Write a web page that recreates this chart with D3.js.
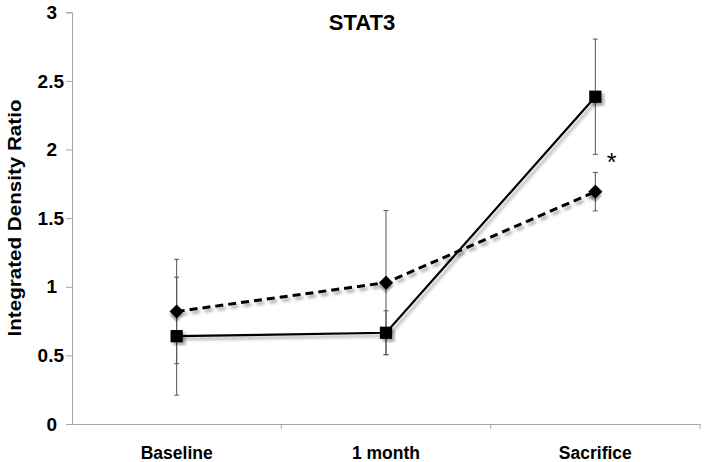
<!DOCTYPE html>
<html>
<head>
<meta charset="utf-8">
<script src="https://cdn.jsdelivr.net/npm/d3@7"></script>
<style>
  html, body { margin: 0; padding: 0; background: #fff; }
  svg { display: block; font-family: "Liberation Sans", Arial, sans-serif; }
</style>
</head>
<body>
<svg id="chart" width="704" height="462"></svg>
<script>
const categories = ["Baseline", "1 month", "Sacrifice"];
const solidValues = [0.64, 0.665, 2.385];
const solidErrors = [0.43, 0.16, 0.42];
const dashedValues = [0.82, 1.03, 1.693];
const dashedErrors = [0.38, 0.525, 0.14];
const yTicks = [0, 0.5, 1, 1.5, 2, 2.5, 3];
const titleText = "STAT3";
const yLabel = "Integrated Density Ratio";
const sigMark = "*";

(function () {
const svg = d3.select("#chart");
const plotLeft = 72, plotRight = 700, plotTop = 12.3, plotBottom = 424;

const x = d3.scaleBand().domain(categories).range([plotLeft, plotRight]).padding(0);
const y = d3.scaleLinear().domain([0, 3]).range([plotBottom, plotTop]);
const cx = c => x(c) + x.bandwidth() / 2;

const defs = svg.append("defs");
const f = defs.append("filter").attr("id", "shadow")
  .attr("x", "-30%").attr("y", "-30%").attr("width", "160%").attr("height", "160%");
f.append("feDropShadow").attr("dx", 2.5).attr("dy", 3).attr("stdDeviation", 1.6)
  .attr("flood-color", "#000").attr("flood-opacity", 0.35);

// Y axis
const yAxis = d3.axisLeft(y).tickValues(yTicks).tickSize(6).tickPadding(8)
  .tickFormat(d => String(d));
const gy = svg.append("g").attr("transform", `translate(${plotLeft},0)`).call(yAxis);
gy.select(".domain").attr("stroke", "#a6a6a6").attr("stroke-width", 1);
gy.selectAll(".tick line").attr("stroke", "#a6a6a6");
gy.selectAll(".tick text")
  .attr("font-size", 19).attr("font-weight", "bold").attr("fill", "#000")
  .attr("font-family", "'Liberation Sans', Arial, sans-serif")
  .attr("x", d => Number.isInteger(d) ? -15 : -8);

// X axis
const xAxis = d3.axisBottom(x).tickSize(0).tickPadding(23);
const gx = svg.append("g").attr("transform", `translate(0,${plotBottom})`).call(xAxis);
gx.select(".domain").attr("stroke", "#a6a6a6").attr("stroke-width", 1);
gx.selectAll(".tick text")
  .attr("font-size", 17.5).attr("font-weight", "bold").attr("fill", "#000")
  .attr("font-family", "'Liberation Sans', Arial, sans-serif");
gx.selectAll(".bound").data(categories).enter().append("line")
  .attr("class", "bound")
  .attr("x1", d => x(d) + x.bandwidth()).attr("x2", d => x(d) + x.bandwidth())
  .attr("y1", 0).attr("y2", 5).attr("stroke", "#a6a6a6");

// Title
svg.append("text").attr("x", 362).attr("y", 30).attr("text-anchor", "middle")
  .attr("font-size", 22).attr("font-weight", "bold").text(titleText);

// Y label
svg.append("text")
  .attr("transform", `translate(21,218) rotate(-90)`)
  .attr("text-anchor", "middle")
  .attr("font-size", 18).attr("font-weight", "bold")
  .attr("textLength", 237).attr("lengthAdjust", "spacingAndGlyphs")
  .text(yLabel);

const series = [
  { vals: solidValues, errs: solidErrors, dash: null, width: 2.2, marker: "square" },
  { vals: dashedValues, errs: dashedErrors, dash: "8,5", width: 3, marker: "diamond" }
];

// Error bars
series.forEach(s => {
  const g = svg.append("g").attr("stroke", "#555").attr("stroke-width", 1);
  categories.forEach((c, i) => {
    const v = s.vals[i], e = s.errs[i];
    g.append("line").attr("x1", cx(c)).attr("x2", cx(c))
      .attr("y1", y(v + e)).attr("y2", y(v - e));
    g.append("line").attr("x1", cx(c) - 2.5).attr("x2", cx(c) + 2.5)
      .attr("y1", y(v + e)).attr("y2", y(v + e));
    g.append("line").attr("x1", cx(c) - 2.5).attr("x2", cx(c) + 2.5)
      .attr("y1", y(v - e)).attr("y2", y(v - e));
  });
});

// Lines
const line = d3.line().x((d, i) => cx(categories[i])).y(d => y(d));
series.forEach(s => {
  svg.append("path").datum(s.vals)
    .attr("d", line).attr("fill", "none").attr("stroke", "#000")
    .attr("stroke-width", s.width)
    .attr("stroke-dasharray", s.dash)
    .attr("filter", "url(#shadow)");
});

// Markers
series.forEach(s => {
  const sym = d3.symbol().type(d3.symbolSquare).size(s.marker === "square" ? 150 : 100);
  svg.append("g").selectAll("path").data(s.vals).enter().append("path")
    .attr("d", sym)
    .attr("transform", (d, i) => `translate(${cx(categories[i])},${y(d)})` + (s.marker === "diamond" ? " rotate(45)" : ""))
    .attr("fill", "#000")
    .attr("filter", "url(#shadow)");
});

// Significance mark
svg.append("text").attr("x", 611.5).attr("y", 171).attr("text-anchor", "middle")
  .attr("font-size", 25).attr("font-weight", "normal").text(sigMark);
})();
</script>
</body>
</html>
